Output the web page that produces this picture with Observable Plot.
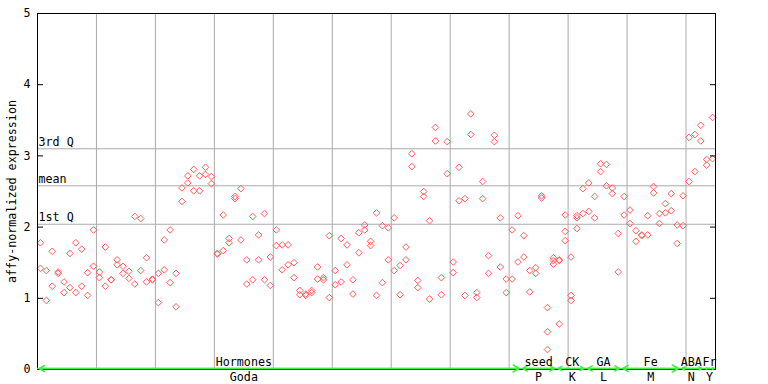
<!DOCTYPE html>
<html><head><meta charset="utf-8">
<script src="https://cdn.jsdelivr.net/npm/d3@7"></script>
<script src="https://cdn.jsdelivr.net/npm/@observablehq/plot@0.6"></script>
<style>body{margin:0;background:#fff}</style>
</head><body><div id="chart"></div>
<script>
// replicate values per sample (115 samples)
const rep1 = [1.78,1.39,1.66,1.37,1.23,1.63,1.78,1.69,1.36,1.96,
  1.37,1.72,1.26,1.54,1.45,1.38,2.15,2.12,1.57,1.26,
  1.35,1.82,1.96,1.35,2.55,2.72,2.81,2.72,2.84,2.71,
  1.62,2.17,1.84,2.43,2.54,1.54,2.15,1.89,2.19,1.58,
  1.96,1.75,1.75,1.50,1.11,1.06,1.11,1.44,1.29,1.88,
  1.39,1.84,1.75,1.26,1.92,2.03,1.80,2.20,2.02,1.99,
  2.13,1.46,1.72,3.03,1.25,2.50,2.09,3.40,1.29,3.20,
  1.51,2.84,2.40,3.59,1.08,2.64,1.60,3.29,2.13,1.27,
  1.96,2.16,1.88,1.39,1.43,2.44,0.87,1.57,1.53,2.17,
  1.58,2.16,2.54,2.62,2.43,2.89,2.88,2.55,1.91,2.43,
  2.24,1.95,1.88,2.16,2.57,2.19,2.33,2.47,2.03,2.44,
  3.26,3.30,3.43,2.95,3.54];
const rep2 = [1.42,0.97,1.17,1.35,1.08,1.15,1.08,1.17,1.04,1.45,
  1.29,1.17,1.26,1.47,1.35,1.28,1.20,1.39,1.23,1.27,
  0.94,1.40,1.22,0.88,2.36,2.62,2.51,2.51,2.74,2.61,
  1.63,1.67,1.78,2.40,1.82,1.20,1.26,1.54,1.26,1.18,
  1.74,1.40,1.47,1.29,1.05,1.04,1.08,1.27,1.26,1.01,
  1.19,1.23,1.47,1.06,1.64,1.96,1.74,1.04,1.22,1.54,
  1.39,1.05,1.54,2.85,1.15,2.43,0.99,3.21,1.05,2.75,
  1.36,2.37,1.04,3.30,1.01,2.40,1.35,3.20,1.44,1.08,
  1.27,1.51,1.58,1.09,1.35,2.41,0.53,1.53,1.54,1.94,
  1.04,2.13,2.19,2.22,2.13,2.78,2.58,2.47,1.37,2.17,
  2.05,1.80,1.89,1.89,2.48,2.05,2.20,2.23,1.77,2.02,
  2.64,2.78,3.21,2.87,2.96];
const rep3Samples = [86, 87, 88, 89, 90, 91];
const rep3Values  = [0.28, 1.48, 0.64, 1.81, 0.97, 1.98];

const groupTop    = ["Hormones","seed","CK","GA","Fe","ABA","Fr"];
const groupBottom = ["Goda","P","K","L","M","N","Y"];
const groupStart  = [0, 82, 88, 93, 99, 109, 113];
const groupEnd    = [81, 87, 92, 98, 108, 112, 114];
const groupLabelAt = [35, 85, 90.7, 96, 104, 110.9, 114];

const refNames  = ["1st Q","mean","3rd Q"];
const refValues = [2.04, 2.58, 3.10];
const yTicks = [0,1,2,3,4,5];
const yLabel = "affy-normalized expression";

const points = [];
rep1.forEach((v,i)=>points.push({i:i+0.5, v}));
rep2.forEach((v,i)=>points.push({i:i+0.5, v}));
rep3Samples.forEach((s,k)=>points.push({i:s+0.5, v:rep3Values[k]}));

const gIdx = d3.range(groupTop.length);
const green = "#44ee44";
const n = rep1.length;

const chart = Plot.plot({
  width: 768, height: 384,
  marginLeft: 37, marginRight: 53, marginTop: 13, marginBottom: 15,
  style: {fontFamily: "DejaVu Sans Mono", fontSize: "11.7px", background: "white", color: "black"},
  x: {domain: [0, n], axis: null},
  y: {domain: [0, 5]},
  marks: [
    Plot.ruleX(d3.range(10, n, 10), {stroke: "#aaa"}),
    Plot.ruleY(refValues, {stroke: "#aaa"}),
    Plot.text(refNames, {y: (d,k)=>refValues[k], text: d=>d, frameAnchor: "left", textAnchor: "start", dx: 1, dy: -7, fill: "black"}),
    Plot.dot(points, {x: "i", y: "v", symbol: "diamond2", r: 3, stroke: "#ff5c5c", fill: "none", strokeWidth: 1}),
    Plot.axisY({ticks: yTicks, tickSize: 0, tickPadding: 7, tickFormat: d3.format("d"), label: null}),
    Plot.axisY({ticks: yTicks, tickSize: 6, dx: 6, text: null, label: null}),
    Plot.axisY({anchor: "right", ticks: yTicks, tickSize: 6, dx: -6, text: null, label: null}),
    Plot.text([yLabel], {frameAnchor: "left", textAnchor: "middle", rotate: -90, dx: -25, text: d=>d, fill: "black"}),
    Plot.frame({stroke: "black"}),
    Plot.ruleY([0], {stroke: green, strokeWidth: 1.5, dy: -1}),
    Plot.arrow(gIdx, {x1: k=>(groupStart[k]+groupEnd[k]+1)/2, x2: k=>groupStart[k]+0.3, y1: k=>0, y2: k=>0, dy: -1, stroke: green, strokeWidth: 1.5, headLength: 6}),
    Plot.arrow(gIdx, {x1: k=>(groupStart[k]+groupEnd[k]+1)/2, x2: k=>groupEnd[k]+0.7, y1: k=>0, y2: k=>0, dy: -1, stroke: green, strokeWidth: 1.5, headLength: 7}),
    Plot.text(gIdx, {x: k=>groupLabelAt[k], y: k=>0, text: k=>groupTop[k], dy: -7, fill: "black"}),
    Plot.text(gIdx, {x: k=>groupLabelAt[k], y: k=>0, text: k=>groupBottom[k], dy: 8, fill: "black"})
  ]
});
document.getElementById("chart").appendChild(chart);
</script>
</body></html>
